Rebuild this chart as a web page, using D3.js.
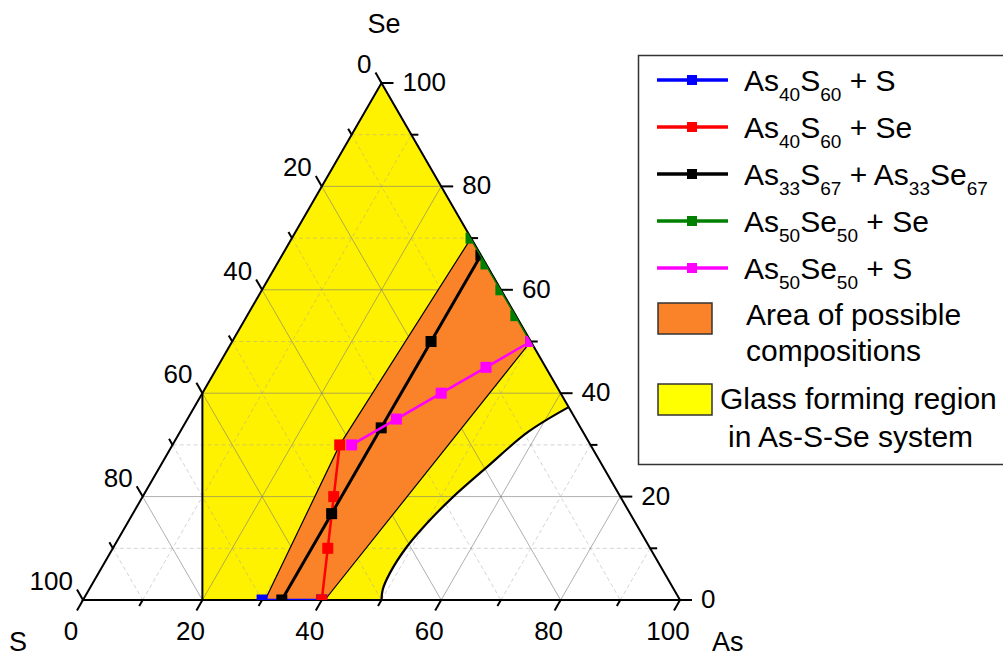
<!DOCTYPE html>
<html>
<head>
<meta charset="utf-8">
<script src="https://cdn.jsdelivr.net/npm/d3@7"></script>
<style>
    body { margin: 0; background: #fff; }
    text { font-family: "Liberation Sans", Arial, sans-serif; fill: #000; }
</style>
</head>
<body>
<div id="chart"></div>
<script>
    'use strict';

    // compositions are [As, Se] in at.%, S is whatever is left
    var tickValues = d3.range(0, 101, 10);
    var tickLabels = [0, 20, 40, 60, 80, 100];
    var axisTitles = ['Se', 'S', 'As'];

    var blueAs = [40, 30];
    var blueSe = [0, 0];
    var redAs = [40, 36, 32, 28];
    var redSe = [0, 10, 20, 30];
    var blackAs = [33.3, 33.3, 33.3, 33.3, 33.3];
    var blackSe = [0, 16.7, 33.3, 50, 66.7];
    var greenAs = [50, 45, 40, 35, 30];
    var greenSe = [50, 55, 60, 65, 70];
    var pinkAs = [50, 45, 40, 35, 30];
    var pinkSe = [50, 45, 40, 35, 30];

    var seriesNames = ['As_{40}S_{60} + S', 'As_{40}S_{60} + Se', 'As_{33}S_{67} + As_{33}Se_{67}',
        'As_{50}Se_{50} + Se', 'As_{50}Se_{50} + S'];
    var seriesColors = ['#0000ff', '#ff0000', '#000000', '#008000', '#ff00ff'];

    // glass forming region: straight part, then the curved lower boundary
    var glassAs = [0, 0, 20, 50];
    var glassSe = [100, 40, 0, 0];
    var glassCurveAs = [50, 49.2, 48.8, 49.1, 50.2, 52.0, 54.8, 58.3, 62.7];
    var glassCurveSe = [0, 2, 5.2, 10.3, 14.9, 19.9, 25.7, 32.5, 37.3];

    // area of possible compositions
    var areaAs = [30.5, 28, 30, 50, 40.5];
    var areaSe = [0, 30, 70, 50, 0];

    var areaLabels = [['Area of possible', 'compositions'], ['Glass forming region', 'in As-S-Se system']];

    var zip = function(as, se) {
        return as.map(function(a, i) { return [a, se[i]]; });
    };

    var x = d3.scaleLinear().domain([0, 100]).range([83, 680]);
    var y = d3.scaleLinear().domain([0, 100]).range([600, 83]);
    var px = function(d) { return x(d[0] + d[1] / 2); };
    var py = function(d) { return y(d[1]); };

    var line = d3.line().x(px).y(py);
    var smooth = d3.line().x(px).y(py).curve(d3.curveCatmullRom.alpha(0.5));

    var svg = d3.select('#chart')
        .append('svg')
        .attr('width', 1003)
        .attr('height', 657)
        .attr('xmlns', 'http://www.w3.org/2000/svg');

    var triangle = [[0, 0], [100, 0], [0, 100]];

    svg.append('clipPath')
        .attr('id', 'tri')
        .append('path')
        .attr('d', line(triangle) + 'Z');

    // yellow region
    var glassPts = zip(glassAs, glassSe);
    var curvePts = zip(glassCurveAs, glassCurveSe);
    svg.append('path')
        .attr('d', line(glassPts) + smooth(curvePts).replace(/^M/, 'L') + 'Z')
        .attr('fill', '#fff200')
        .attr('stroke', 'none');

    // grid
    var gridVals = d3.range(10, 100, 10);
    var gridLines = [];
    gridVals.forEach(function(v) {
        var major = v % 20 === 0;
        gridLines.push({ a: [v, 0], b: [v, 100 - v], major: major });
        gridLines.push({ a: [0, v], b: [100 - v, v], major: major });
        gridLines.push({ a: [0, 100 - v], b: [100 - v, 0], major: major });
    });

    svg.append('g')
        .attr('class', 'grid')
        .selectAll('line').data(gridLines).enter()
        .append('line')
        .attr('x1', function(d) { return px(d.a); })
        .attr('y1', function(d) { return py(d.a); })
        .attr('x2', function(d) { return px(d.b); })
        .attr('y2', function(d) { return py(d.b); })
        .attr('stroke', function(d) { return d.major ? '#7a7a7a' : '#a0a0a0'; })
        .attr('stroke-opacity', function(d) { return d.major ? 0.6 : 0.45; })
        .attr('stroke-dasharray', function(d) { return d.major ? null : '4,3'; })
        .attr('stroke-width', 1);

    // yellow boundaries
    svg.append('path')
        .attr('d', line(glassPts.slice(1, 3)))
        .attr('fill', 'none')
        .attr('stroke', '#000')
        .attr('stroke-width', 2);
    svg.append('path')
        .attr('d', smooth(curvePts))
        .attr('fill', 'none')
        .attr('stroke', '#000')
        .attr('stroke-width', 2.2);

    // orange area
    svg.append('path')
        .attr('d', line(zip(areaAs, areaSe)) + 'Z')
        .attr('fill', '#fa8228')
        .attr('stroke', '#000')
        .attr('stroke-width', 1.2);

    // triangle frame
    svg.append('path')
        .attr('d', line(triangle) + 'Z')
        .attr('fill', 'none')
        .attr('stroke', '#000')
        .attr('stroke-width', 2)
        .attr('stroke-linejoin', 'miter');

    // ticks: bottom As, right Se, left S
    var axes = [
        { pos: function(v) { return [v, 0]; }, dir: [-0.5, 0.866] },
        { pos: function(v) { return [100 - v, v]; }, dir: [1, 0] },
        { pos: function(v) { return [0, 100 - v]; }, dir: [-0.5, -0.866] }
    ];

    var tickData = [];
    axes.forEach(function(ax) {
        tickValues.forEach(function(v) {
            var p = ax.pos(v);
            var len = v % 20 === 0 ? 12 : 7;
            tickData.push({ x: px(p), y: py(p), x2: px(p) + ax.dir[0] * len, y2: py(p) + ax.dir[1] * len });
        });
    });

    svg.append('g')
        .attr('class', 'ticks')
        .selectAll('line').data(tickData).enter()
        .append('line')
        .attr('x1', function(d) { return d.x; })
        .attr('y1', function(d) { return d.y; })
        .attr('x2', function(d) { return d.x2; })
        .attr('y2', function(d) { return d.y2; })
        .attr('stroke', '#000')
        .attr('stroke-width', 2);

    var labels = svg.append('g')
        .attr('class', 'tick-labels')
        .attr('font-size', 26);

    labels.selectAll('text.bottom').data(tickLabels).enter()
        .append('text')
        .attr('class', 'bottom')
        .attr('x', function(v) { return px([v, 0]) - 12; })
        .attr('y', 640)
        .attr('text-anchor', 'middle')
        .text(function(v) { return v; });

    labels.selectAll('text.right').data(tickLabels).enter()
        .append('text')
        .attr('class', 'right')
        .attr('x', function(v) { return px([100 - v, v]) + 21; })
        .attr('y', function(v) { return py([100 - v, v]) + 8; })
        .text(function(v) { return v; });

    labels.selectAll('text.left').data(tickLabels).enter()
        .append('text')
        .attr('class', 'left')
        .attr('x', function(v) { return px([0, 100 - v]) - 10; })
        .attr('y', function(v) { return py([0, 100 - v]) - 10; })
        .attr('text-anchor', 'end')
        .text(function(v) { return v; });

    var titlePos = [[384, 33, 'middle'], [18, 651, 'middle'], [712, 651, 'start']];
    svg.append('g')
        .selectAll('text').data(axisTitles).enter()
        .append('text')
        .attr('x', function(d, i) { return titlePos[i][0]; })
        .attr('y', function(d, i) { return titlePos[i][1]; })
        .attr('text-anchor', function(d, i) { return titlePos[i][2]; })
        .attr('font-size', 27)
        .text(function(d) { return d; });

    // series
    var series = [
        zip(blueAs, blueSe), zip(redAs, redSe), zip(blackAs, blackSe),
        zip(greenAs, greenSe), zip(pinkAs, pinkSe)
    ];

    var seriesG = svg.append('g')
        .attr('clip-path', 'url(#tri)')
        .selectAll('g').data(series).enter()
        .append('g')
        .attr('fill', function(d, i) { return seriesColors[i]; })
        .attr('stroke', function(d, i) { return seriesColors[i]; });

    seriesG.append('path')
        .attr('d', function(d) { return line(d); })
        .attr('fill', 'none')
        .attr('stroke-width', function(d, i) { return i === 2 ? 3 : 2.5; });

    seriesG.selectAll('rect').data(function(d) { return d; }).enter()
        .append('rect')
        .attr('x', function(d) { return px(d) - 5.5; })
        .attr('y', function(d) { return py(d) - 5.5; })
        .attr('width', 11)
        .attr('height', 11)
        .attr('stroke', 'none');

    // legend
    var legend = svg.append('g').attr('class', 'legend');

    legend.append('rect')
        .attr('x', 638.5)
        .attr('y', 55.5)
        .attr('width', 380)
        .attr('height', 409)
        .attr('fill', '#fff')
        .attr('stroke', '#333')
        .attr('stroke-width', 1.5);

    var rows = legend.selectAll('g.row').data(seriesNames).enter()
        .append('g')
        .attr('class', 'row')
        .attr('transform', function(d, i) { return 'translate(0,' + (80 + i * 47) + ')'; });

    rows.append('line')
        .attr('x1', 657)
        .attr('x2', 728)
        .attr('stroke', function(d, i) { return seriesColors[i]; })
        .attr('stroke-width', 3.5);

    rows.append('rect')
        .attr('x', 687)
        .attr('y', -5)
        .attr('width', 10)
        .attr('height', 10)
        .attr('fill', function(d, i) { return seriesColors[i]; });

    rows.append('text')
        .attr('x', 744)
        .attr('y', 11)
        .attr('font-size', 30)
        .each(function(d) {
            var t = d3.select(this);
            var lowered = false;
            d.split(/(_\{[^}]*\})/).filter(function(s) { return s.length; }).forEach(function(part) {
                var sub = part.charAt(0) === '_';
                var shift = 0;
                if (sub && !lowered) shift = 10;
                if (!sub && lowered) shift = -10;
                lowered = sub;
                t.append('tspan')
                    .attr('font-size', sub ? 19 : null)
                    .attr('dy', shift)
                    .text(sub ? part.slice(2, -1) : part);
            });
        });

    var swatches = [
        { y: 303, fill: '#fa8228', tx: [746, 746], ty: [325, 361] },
        { y: 384, fill: '#ffff00', tx: [720, 728], ty: [409, 447] }
    ];

    swatches.forEach(function(s, i) {
        legend.append('rect')
            .attr('x', 658)
            .attr('y', s.y)
            .attr('width', 54)
            .attr('height', 31)
            .attr('fill', s.fill)
            .attr('stroke', '#333')
            .attr('stroke-width', 1.5);

        areaLabels[i].forEach(function(txt, j) {
            legend.append('text')
                .attr('x', s.tx[j])
                .attr('y', s.ty[j])
                .attr('font-size', 30)
                .text(txt);
        });
    });
</script>
</body>
</html>
